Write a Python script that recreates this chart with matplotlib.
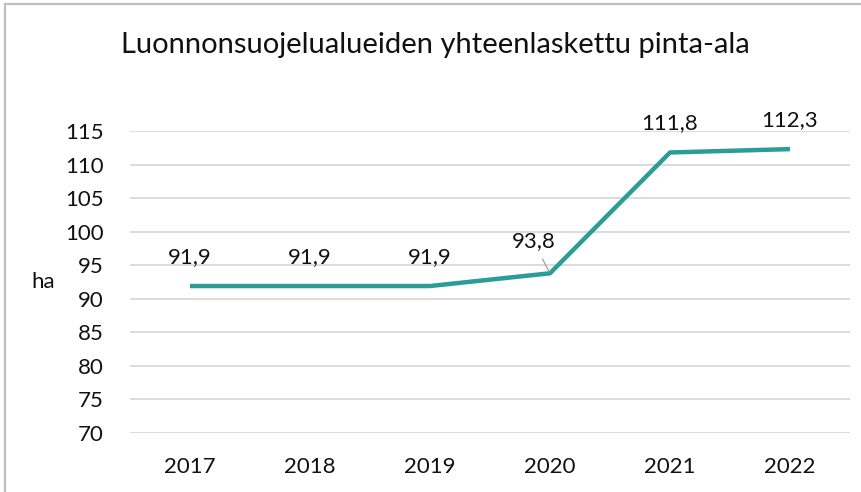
import matplotlib.pyplot as plt
from matplotlib.lines import Line2D

years = ['2017', '2018', '2019', '2020', '2021', '2022']
area_ha = [91.9, 91.9, 91.9, 93.8, 111.8, 112.3]
value_labels = ['91,9', '91,9', '91,9', '93,8', '111,8', '112,3']
yticks = [70, 75, 80, 85, 90, 95, 100, 105, 110, 115]

plt.rcParams['font.family'] = ['Lato', 'DejaVu Sans']

W, H = 862, 492
fig = plt.figure(figsize=(W / 100, H / 100), dpi=100, facecolor='white')

# outer frame (only left and top edges visible)
fig.add_artist(Line2D([5 / W, 5 / W], [0, 1 - 4 / H], color='#BFBFBF', lw=1.6, transform=fig.transFigure))
fig.add_artist(Line2D([5 / W, 1], [1 - 4 / H, 1 - 4 / H], color='#BFBFBF', lw=1.6, transform=fig.transFigure))

ax = fig.add_axes([130 / W, (H - 433) / H, 720 / W, 302 / H])
x = list(range(len(years)))
ax.plot(x, area_ha, color='#2A9D96', lw=3.2, solid_capstyle='butt', zorder=3)

ax.set_xlim(-0.5, len(years) - 0.5)
ax.set_ylim(70, 115)
ax.set_yticks(yticks)
ax.set_xticks(x)
ax.set_xticklabels(years)
ax.yaxis.grid(True, color='#D9D9D9', lw=1.3)
ax.set_axisbelow(True)
for s in ax.spines.values():
    s.set_visible(False)
ax.tick_params(length=0, labelsize=16, labelcolor='#111111')
ax.tick_params(axis='y', pad=19)
ax.tick_params(axis='x', pad=17)

ax.set_ylabel('ha', rotation=0, fontsize=16, color='#111111', va='center')
ax.yaxis.set_label_coords(-0.12, 0.5)

for i, (v, lab) in enumerate(zip(area_ha, value_labels)):
    if i == 3:
        ax.annotate(lab, xy=(i, v), xytext=(-12, 23), textcoords='offset points',
                    ha='center', va='center', fontsize=16, color='#111111',
                    arrowprops=dict(arrowstyle='-', color='#A6A6A6', lw=1.0, shrinkA=4, shrinkB=2))
    else:
        ax.annotate(lab, xy=(i, v), xytext=(0, 21), textcoords='offset points',
                    ha='center', va='center', fontsize=16, color='#111111')

fig.text(435 / W, 1 - 45 / H, 'Luonnonsuojelualueiden yhteenlaskettu pinta-ala',
         ha='center', va='center', fontsize=21, color='#111111')

fig.savefig('out.png', dpi=100)
